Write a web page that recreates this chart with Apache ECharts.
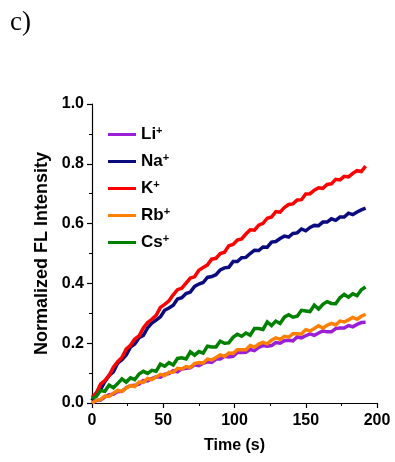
<!DOCTYPE html>
<html>
<head>
<meta charset="utf-8">
<script src="https://cdn.jsdelivr.net/npm/echarts@6/dist/echarts.min.js"></script>
<style>
  html, body { margin: 0; padding: 0; background: #fff; }
  #chart { width: 395px; height: 462px; }
</style>
</head>
<body>
<div id="chart"></div>
<script>
// Time points of the fluorescence traces (s)
const timeS = [0,3,6,9,12,15,18,21,24,27,30,33,36,39,42,45,48,51,54,57,60,63,66,69,72,75,78,81,84,87,90,93,96,99,102,105,108,111,114,117,120,123,126,129,132,135,138,141,144,147,150,153,156,159,162,165,168,171,174,177,180,183,186,189,192];

// Normalized FL intensity for each cation
const li = [0.000,0.008,0.010,0.020,0.028,0.029,0.038,0.039,0.051,0.058,0.059,0.063,0.075,0.074,0.082,0.088,0.086,0.096,0.098,0.108,0.104,0.114,0.116,0.118,0.128,0.125,0.133,0.138,0.136,0.147,0.147,0.156,0.154,0.156,0.169,0.169,0.170,0.179,0.175,0.186,0.192,0.190,0.192,0.202,0.200,0.208,0.210,0.208,0.221,0.218,0.225,0.231,0.226,0.234,0.241,0.238,0.238,0.249,0.251,0.251,0.259,0.255,0.263,0.269,0.270];
const na = [0.008,0.034,0.045,0.071,0.092,0.104,0.133,0.145,0.161,0.187,0.197,0.218,0.226,0.251,0.267,0.277,0.288,0.310,0.318,0.327,0.348,0.352,0.366,0.371,0.390,0.398,0.403,0.420,0.423,0.429,0.445,0.452,0.454,0.473,0.473,0.486,0.487,0.500,0.511,0.510,0.522,0.521,0.538,0.540,0.550,0.558,0.555,0.567,0.569,0.582,0.576,0.587,0.594,0.593,0.605,0.605,0.616,0.611,0.622,0.622,0.635,0.630,0.639,0.646,0.652];
const k = [0.019,0.033,0.063,0.075,0.092,0.120,0.138,0.152,0.180,0.193,0.214,0.224,0.251,0.269,0.280,0.293,0.320,0.330,0.342,0.362,0.379,0.384,0.401,0.418,0.422,0.444,0.453,0.462,0.481,0.484,0.500,0.504,0.526,0.530,0.545,0.549,0.565,0.579,0.578,0.595,0.601,0.618,0.622,0.640,0.638,0.654,0.664,0.666,0.679,0.680,0.699,0.700,0.712,0.720,0.718,0.731,0.733,0.748,0.746,0.758,0.756,0.768,0.777,0.774,0.792];
const rb = [0.000,0.009,0.011,0.023,0.022,0.033,0.042,0.039,0.050,0.058,0.055,0.070,0.069,0.082,0.078,0.087,0.096,0.092,0.103,0.103,0.116,0.114,0.122,0.119,0.132,0.135,0.134,0.147,0.144,0.152,0.161,0.156,0.167,0.166,0.178,0.178,0.178,0.192,0.187,0.197,0.203,0.198,0.210,0.218,0.213,0.223,0.220,0.232,0.232,0.231,0.245,0.241,0.249,0.258,0.251,0.260,0.266,0.261,0.274,0.271,0.278,0.286,0.280,0.290,0.297];
const cs = [0.015,0.022,0.042,0.039,0.060,0.051,0.065,0.081,0.070,0.084,0.078,0.097,0.106,0.099,0.109,0.106,0.130,0.123,0.135,0.127,0.149,0.151,0.147,0.171,0.160,0.172,0.167,0.190,0.187,0.187,0.207,0.200,0.201,0.220,0.230,0.223,0.234,0.227,0.249,0.249,0.246,0.271,0.259,0.274,0.266,0.287,0.295,0.287,0.290,0.310,0.308,0.306,0.327,0.314,0.330,0.339,0.333,0.332,0.352,0.363,0.354,0.365,0.359,0.379,0.388];

const ionNames = ['Li', 'Na', 'K', 'Rb', 'Cs'];
const ionColors = ['#9b1fd6', '#0b0b80', '#ff0000', '#ff8000', '#008000'];
const ionValues = [li, na, k, rb, cs];

const FONT = '"Liberation Sans", Arial, sans-serif';

const chart = echarts.init(document.getElementById('chart'), null, { renderer: 'canvas' });

const series = ionNames.map((name, i) => ({
  name: name,
  type: 'line',
  showSymbol: false,
  symbol: 'none',
  animation: false,
  lineStyle: { color: ionColors[i], width: 3.5, join: 'miter' },
  itemStyle: { color: ionColors[i] },
  data: timeS.map((t, j) => [t, ionValues[i][j]])
}));

chart.setOption({
  backgroundColor: '#ffffff',
  animation: false,
  graphic: [{
    type: 'text',
    left: 10,
    top: 9,
    style: { text: 'c)', font: '27px "Liberation Serif", "Times New Roman", serif', fill: '#000' }
  }],
  grid: { left: 92, right: 18, top: 104, bottom: 59, containLabel: false },
  legend: {
    orient: 'vertical',
    left: 108,
    top: 125,
    padding: 0,
    icon: 'rect',
    itemWidth: 28,
    itemHeight: 3,
    itemGap: 7,
    data: ionNames,
    formatter: name => '{b|' + name + '}{s|+}',
    textStyle: {
      color: '#000',
      rich: {
        b: { fontFamily: FONT, fontWeight: 'bold', fontSize: 17, lineHeight: 19, color: '#000' },
        s: { fontFamily: FONT, fontWeight: 'bold', fontSize: 11, lineHeight: 19, verticalAlign: 'top', padding: [0, 0, 9, 0], color: '#000' }
      }
    }
  },
  xAxis: {
    type: 'value',
    min: 0,
    max: 200,
    interval: 50,
    name: 'Time (s)',
    nameLocation: 'middle',
    nameGap: 35,
    nameTextStyle: { fontFamily: FONT, fontWeight: 'bold', fontSize: 16, color: '#000' },
    axisLine: { show: true, lineStyle: { color: '#000', width: 1.2 } },
    axisTick: { show: true, inside: false, length: 5, lineStyle: { color: '#000', width: 1.2 } },
    minorTick: { show: true, splitNumber: 2, length: 3, lineStyle: { color: '#000', width: 1 } },
    splitLine: { show: false },
    axisLabel: { fontFamily: FONT, fontWeight: 'bold', fontSize: 16, color: '#000', margin: 10 }
  },
  yAxis: {
    type: 'value',
    min: 0,
    max: 1.0,
    interval: 0.2,
    name: 'Normalized FL Intensity',
    nameLocation: 'middle',
    nameGap: 31,
    nameTextStyle: { fontFamily: FONT, fontWeight: 'bold', fontSize: 18, color: '#000' },
    axisLine: { show: true, lineStyle: { color: '#000', width: 1.2 } },
    axisTick: { show: true, inside: false, length: 5, lineStyle: { color: '#000', width: 1.2 } },
    minorTick: { show: true, splitNumber: 2, length: 3, lineStyle: { color: '#000', width: 1 } },
    splitLine: { show: false },
    axisLabel: {
      fontFamily: FONT, fontWeight: 'bold', fontSize: 16, color: '#000', margin: 8,
      formatter: v => v.toFixed(1)
    }
  },
  series: series
});
</script>
</body>
</html>
